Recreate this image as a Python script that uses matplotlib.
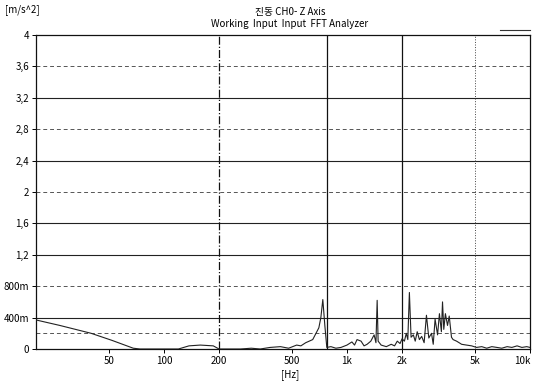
import matplotlib
matplotlib.use("Agg")
import matplotlib.pyplot as plt
from matplotlib.lines import Line2D

# ---- data ----
freq_hz = [20, 27, 40, 52, 68, 74, 95, 120, 137, 158, 186, 200, 230, 262, 300, 336, 380,
           433, 480, 531, 560, 595, 650, 702, 720, 738, 757, 776, 817, 870, 927, 1000,
           1064, 1100, 1135, 1194, 1240, 1288, 1350, 1407, 1440, 1462, 1480, 1537, 1640,
           1745, 1820, 1883, 1950, 2000, 2060, 2108, 2150, 2193, 2240, 2305, 2360, 2420,
           2487, 2560, 2640, 2718, 2800, 2897, 2960, 3030, 3126, 3200, 3280, 3327, 3380,
           3450, 3543, 3620, 3724, 3800, 3970, 4100, 4230, 4500, 4800, 5100, 5450, 5800,
           6180, 6600, 7010, 7500, 7960, 8500, 9030, 9600, 10000]
accel = [0.37, 0.30, 0.20, 0.11, 0.01, 0.0, 0.0, 0.0, 0.04, 0.05, 0.04, 0.0, 0.0, 0.0,
         0.01, 0.0, 0.02, 0.03, 0.01, 0.05, 0.04, 0.08, 0.12, 0.27, 0.40, 0.63, 0.30, 0.02,
         0.03, 0.01, 0.02, 0.05, 0.09, 0.05, 0.12, 0.10, 0.04, 0.06, 0.10, 0.18, 0.08, 0.62,
         0.10, 0.05, 0.03, 0.06, 0.04, 0.10, 0.07, 0.13, 0.10, 0.20, 0.12, 0.72, 0.15, 0.18,
         0.10, 0.22, 0.12, 0.16, 0.08, 0.43, 0.14, 0.20, 0.06, 0.38, 0.18, 0.45, 0.22, 0.60,
         0.25, 0.45, 0.30, 0.42, 0.15, 0.12, 0.10, 0.08, 0.06, 0.05, 0.04, 0.02, 0.03, 0.01,
         0.03, 0.02, 0.01, 0.03, 0.02, 0.04, 0.02, 0.03, 0.02]

ytick_vals = [0, 0.4, 0.8, 1.2, 1.6, 2.0, 2.4, 2.8, 3.2, 3.6, 4.0]
ytick_labels = ["0", "400m", "800m", "1,2", "1,6", "2", "2,4", "2,8", "3,2", "3,6", "4"]
xtick_vals = [50, 100, 200, 500, 1000, 2000, 5000, 10000]
xtick_labels = ["50", "100", "200", "500", "1k", "2k", "5k", "10k"]

title = "진동 CH0- Z Axis"
subtitle = "Working  Input  Input  FFT Analyzer"
unit_y = "[m/s^2]"
unit_x = "[Hz]"

fonts = ["Liberation Sans Narrow", "Noto Sans CJK KR", "DejaVu Sans"]
plt.rcParams["font.family"] = fonts

fig = plt.figure(figsize=(5.36, 3.89), dpi=100)
ax = fig.add_axes([36/536, 40/389, 494/536, 314/389])
ax.set_xscale("log")
ax.set_xlim(20, 10000)
ax.set_ylim(0, 4)

# horizontal grid lines
solid_h = [0.4, 1.2, 1.6, 2.4, 3.2]
dash_h = [0.2, 0.8, 2.0, 2.8, 3.6]
for y in solid_h:
    ax.axhline(y, color="#222222", lw=0.8, zorder=1)
for y in dash_h:
    ax.axhline(y, color="#555555", lw=0.7, ls=(0, (4, 3)), zorder=1)
# vertical lines
ax.axvline(200, color="#111111", lw=0.9, ls="-.", zorder=1)
ax.axvline(776, color="#111111", lw=0.9, zorder=1)
ax.axvline(2000, color="#111111", lw=0.9, zorder=1)
ax.axvline(5000, color="#444444", lw=0.7, ls=":", zorder=1)

ax.plot(freq_hz, accel, color="#222222", lw=0.8, zorder=3)

ax.set_yticks(ytick_vals)
ax.set_yticklabels(ytick_labels)
ax.set_xticks(xtick_vals)
ax.set_xticklabels(xtick_labels)
ax.minorticks_off()
ax.tick_params(axis="both", labelsize=7, length=3, width=0.7, color="black", pad=2)
ax.get_xticklabels()[-1].set_horizontalalignment("right")

for s in ax.spines.values():
    s.set_color("#111111")
    s.set_linewidth(0.9)

fig.text(290/536, 1 - 12/389, title, ha="center", va="center", fontsize=7, family=fonts)
fig.text(290/536, 1 - 24/389, subtitle, ha="center", va="center", fontsize=7, family=fonts)
fig.text(5/536, 1 - 10/389, unit_y, ha="left", va="center", fontsize=7, family=fonts)
fig.text(290/536, 1 - 375/389, unit_x, ha="center", va="center", fontsize=7, family=fonts)
fig.add_artist(Line2D([500/536, 530/536], [1 - 30/389, 1 - 30/389],
                      transform=fig.transFigure, color="#333333", lw=0.8))

fig.savefig("out.png", dpi=100)
